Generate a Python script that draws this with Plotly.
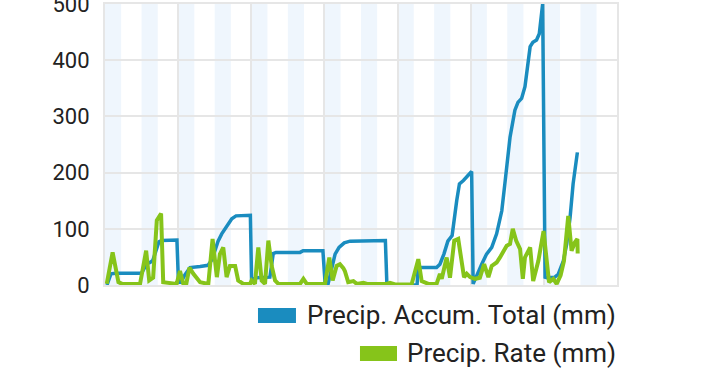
import plotly.graph_objects as go

# ---- data (x in hours from start of the 7-day window) ----
accum_hours = [0.66, 1.97, 3.6, 12.0, 13.7, 14.8, 15.7, 16.7, 17.7, 18.6, 23.6, 24.1, 24.9, 26.2, 27.9,
               31.2, 33.8, 35.1, 36.1, 37.1, 38.3, 39.9, 41.6, 43.0, 45.9, 47.7, 48.1, 49.5, 54.1, 55.2,
               56.1, 64.0, 65.0, 71.5, 72.2, 73.2, 74.2, 75.5, 76.8, 78.5, 80.4, 85.3, 92.0, 92.5, 102.4,
               102.7, 108.8, 109.9, 111.2, 112.5, 113.9, 115.4, 116.3, 117.6, 119.8, 120.3, 120.8, 122.1,
               123.6, 125.2, 126.9, 128.5, 130.2, 131.2, 132.3, 132.9, 134.5, 135.5, 136.7, 137.8, 139.5,
               140.4, 141.6, 142.5, 143.6, 144.4, 145.0, 147.6, 148.7, 150.4, 151.5, 152.6, 153.6, 155.0]
accum_total = [0, 20, 21, 21, 38, 40, 44, 60, 77, 79, 80, 5, 5, 18, 31,
               33, 35, 45, 61, 78, 91, 103, 118, 123, 124, 124, 8, 13, 14, 56,
               58, 58, 61, 61, 5, 2, 25, 55, 67, 75, 78, 79, 79, 0, 0,
               31, 31, 37, 55, 78, 88, 150, 180, 186, 200, 202, 2, 20,
               37, 55, 67, 91, 132, 180, 240, 263, 311, 325, 332, 353, 424,
               432, 436, 447, 500, 14, 13, 14, 19, 43, 73, 120, 180, 236]

rate_hours = [0.56, 2.5, 4.4, 5.6, 11.5, 13.5, 14.5, 15.8, 17.0, 18.4, 19.1, 23.5, 24.6, 25.7, 26.6,
              27.7, 29.0, 31.2, 33.9, 35.3, 36.7, 37.7, 38.8, 39.9, 41.0, 42.7, 43.7, 45.4, 47.6, 48.1,
              49.2, 50.3, 51.4, 52.5, 53.6, 54.7, 55.8, 56.9, 64.0, 65.1, 66.2, 72.2, 73.6, 74.7, 76.0,
              77.1, 78.2, 78.7, 79.8, 81.5, 82.6, 84.8, 86.0, 92.4, 93.5, 95.2, 100.6, 102.8, 103.9,
              106.1, 108.8, 109.9, 110.5, 112.1, 113.2, 114.6, 115.9, 117.8, 118.7, 119.8, 121.4, 123.0,
              124.4, 125.8, 126.9, 128.5, 129.6, 130.7, 131.8, 132.9, 133.8, 134.9, 136.2, 137.1, 137.8,
              139.5, 140.5, 142.2, 143.9, 145.7, 147.1, 148.2, 149.5, 150.6, 152.0, 153.1, 154.2, 155.0, 155.1]
rate_mm = [2, 58, 5, 2, 2, 61, 8, 13, 115, 127, 5, 2, 25, 2, 0,
           31, 20, 5, 2, 82, 14, 55, 67, 14, 34, 34, 8, 2, 2, 8,
           2, 67, 8, 2, 79, 34, 8, 2, 2, 11, 2, 2, 49, 8, 34,
           37, 30, 25, 5, 7, 2, 4, 2, 2, 4, 1, 1, 46, 7,
           2, 2, 20, 11, 49, 13, 79, 82, 14, 20, 14, 11, 13,
           37, 14, 34, 40, 49, 61, 70, 73, 100, 79, 64, 11, 49,
           67, 7, 43, 96, 5, 11, 2, 17, 43, 123, 61, 76, 82, 56]

y_ticks = [0, 100, 200, 300, 400, 500]
series_names = ["Precip. Accum. Total (mm)", "Precip. Rate (mm)"]
series_colors = ["#1a8cbf", "#86c41a"]

fig = go.Figure()
fig.add_trace(go.Scatter(x=accum_hours, y=accum_total, mode="lines", name=series_names[0],
                         line=dict(color=series_colors[0], width=3.5), showlegend=False))
fig.add_trace(go.Scatter(x=rate_hours, y=rate_mm, mode="lines", name=series_names[1],
                         line=dict(color=series_colors[1], width=4), showlegend=False))

shapes = []
for k in range(14):
    shapes.append(dict(type="rect", xref="x", yref="y", x0=k * 12, x1=k * 12 + 5.3, y0=0, y1=500,
                       fillcolor="#eff6fd", line=dict(width=0), layer="below"))

# legend (manual, rectangles)
shapes.append(dict(type="rect", xref="paper", yref="paper", x0=0.2988, x1=0.373, y0=-0.1352, y1=-0.0819,
                   fillcolor=series_colors[0], line=dict(width=0)))
shapes.append(dict(type="rect", xref="paper", yref="paper", x0=0.498, x1=0.5703, y0=-0.2705, y1=-0.2171,
                   fillcolor=series_colors[1], line=dict(width=0)))
annotations = [
    dict(text=series_names[0], xref="paper", yref="paper", x=1.002, y=-0.1068, xanchor="right",
         yanchor="middle", showarrow=False, font=dict(family="Roboto", size=26, color="#222222")),
    dict(text=series_names[1], xref="paper", yref="paper", x=1.002, y=-0.242, xanchor="right",
         yanchor="middle", showarrow=False, font=dict(family="Roboto", size=26, color="#222222")),
]

fig.update_layout(
    width=720, height=370,
    margin=dict(l=105, r=103, t=4, b=85, autoexpand=False),
    paper_bgcolor="white", plot_bgcolor="white",
    shapes=shapes, annotations=annotations,
    showlegend=False,
    xaxis=dict(range=[0, 168], dtick=24, tick0=0, showticklabels=False, showgrid=True,
               gridcolor="#e6e6e6", gridwidth=2, zeroline=False, showline=True, linecolor="#e6e6e6",
               linewidth=2, mirror=True, fixedrange=True, automargin=False),
    yaxis=dict(range=[0, 500], tickvals=y_ticks, showgrid=True, gridcolor="#e6e6e6", gridwidth=2,
               zeroline=False, showline=True, linecolor="#e6e6e6", linewidth=2, mirror=True,
               ticks="outside", ticklen=9, tickcolor="rgba(0,0,0,0)", ticklabeloverflow="allow",
               automargin=False,
               tickfont=dict(family="Roboto", size=22, color="#222222"), fixedrange=True),
)

fig.write_html("out.html", config={"displayModeBar": False},
               post_script="document.body.style.margin='0';")
